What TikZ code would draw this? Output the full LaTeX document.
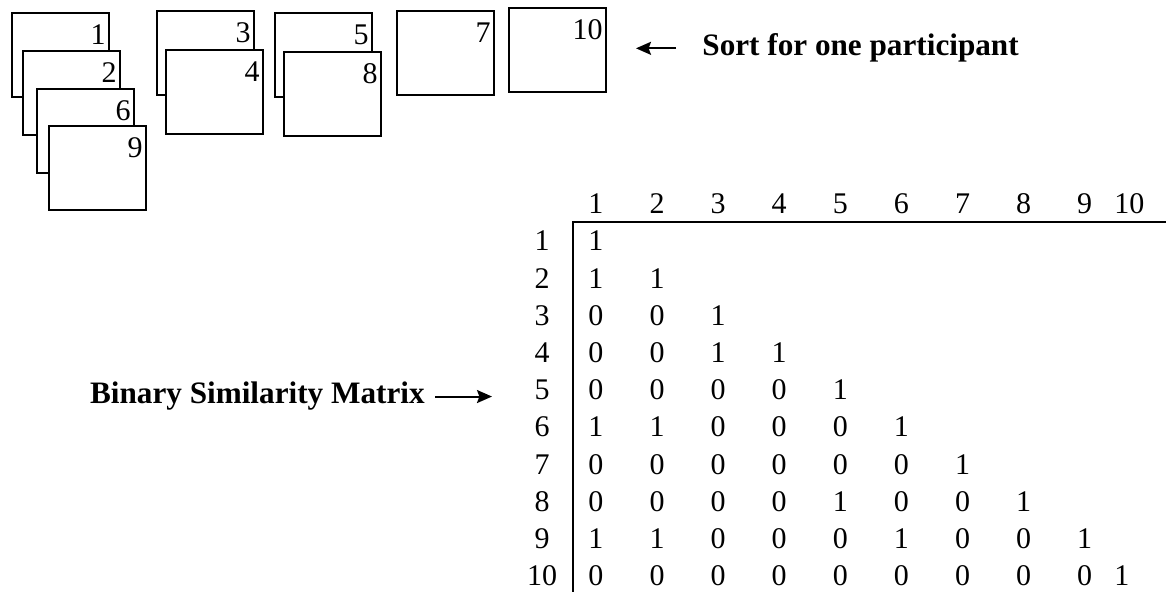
\documentclass[tikz,border=0pt]{standalone}
\usepackage{fontspec}
\setmainfont{Liberation Serif}
\usepackage{tikz}
\usetikzlibrary{arrows.meta,positioning}

\begin{document}
\begin{tikzpicture}[x=0.5pt, y=-0.5pt,
    card/.style={draw, fill=white, line width=1pt, minimum width=48.5pt, minimum height=42pt, inner sep=0pt, anchor=north west},
    num/.style={anchor=north east, inner sep=0pt, font=\fontsize{15}{18}\selectfont},
    lbl/.style={inner sep=0pt, font=\fontsize{15.6}{18}\selectfont\bfseries},
    cell/.style={anchor=base west, inner sep=0pt, font=\fontsize{15}{18}\selectfont},
    rule/.style={line width=1pt},
    arr/.style={line width=1pt, -{Stealth[length=7.5pt,width=6.5pt,inset=1.2pt]}}
  ]
    \useasboundingbox (0,0) rectangle (1166,592);
    % the piles of cards, back to front
    \foreach \n/\x/\y in {1/11/12, 2/22/50, 6/36/88, 9/48/125, 3/156/10, 4/165/49, 5/274/12, 8/283/51, 7/396/10, 10/508/7} {
      \node[card] (c\n) at (\x,\y) {};
      \node[num] (n\n) at ([xshift=-2pt,yshift=-6pt]c\n.north east) {\n};
    }
    \node[lbl, anchor=base west] (sort) at (702,56) {Sort for one participant};
    \coordinate (sorttip) at (636,50);
    \draw[arr] ([xshift=-13pt]sort.west) -- (sort.west -| sorttip);

    % heads of the matrix
    \foreach \c in {1,...,10} {
      \pgfmathsetmacro{\cx}{\c<10 ? 588+(\c-1)*61.1 : 1114}
      \pgfmathsetmacro{\ry}{251+(\c-1)*37.2}
      \node[cell] (h\c) at (\cx,214) {\c};
      \node[cell, anchor=base] (r\c) at (542,\ry) {\c};
    }
    \coordinate (corner) at (573,222);
    \coordinate (rightend) at (1166,222);
    \coordinate (bottomend) at (573,592);
    \draw[rule] (rightend) -- (corner) -- (bottomend);

    % lower triangle of the matrix
    \foreach \r/\vals in {1/{1}, 2/{1,1}, 3/{0,0,1}, 4/{0,0,1,1}, 5/{0,0,0,0,1},
        6/{1,1,0,0,0,1}, 7/{0,0,0,0,0,0,1}, 8/{0,0,0,0,1,0,0,1},
        9/{1,1,0,0,0,1,0,0,1}, 10/{0,0,0,0,0,0,0,0,0,1}} {
      \pgfmathsetmacro{\ry}{251+(\r-1)*37.2}
      \foreach \v [count=\c] in \vals {
        \pgfmathsetmacro{\cx}{\c<10 ? 588+(\c-1)*61.1 : 1114}
        \node[cell] (m\r-\c) at (\cx,\ry) {\v};
      }
    }

    \node[lbl, anchor=base east] (bsm) at (425,404) {Binary Similarity Matrix};
    \coordinate (bsmtip) at (492,396);
    \draw[arr] ([xshift=5pt]bsm.east) -- (bsm.east -| bsmtip);
\end{tikzpicture}
\end{document}
